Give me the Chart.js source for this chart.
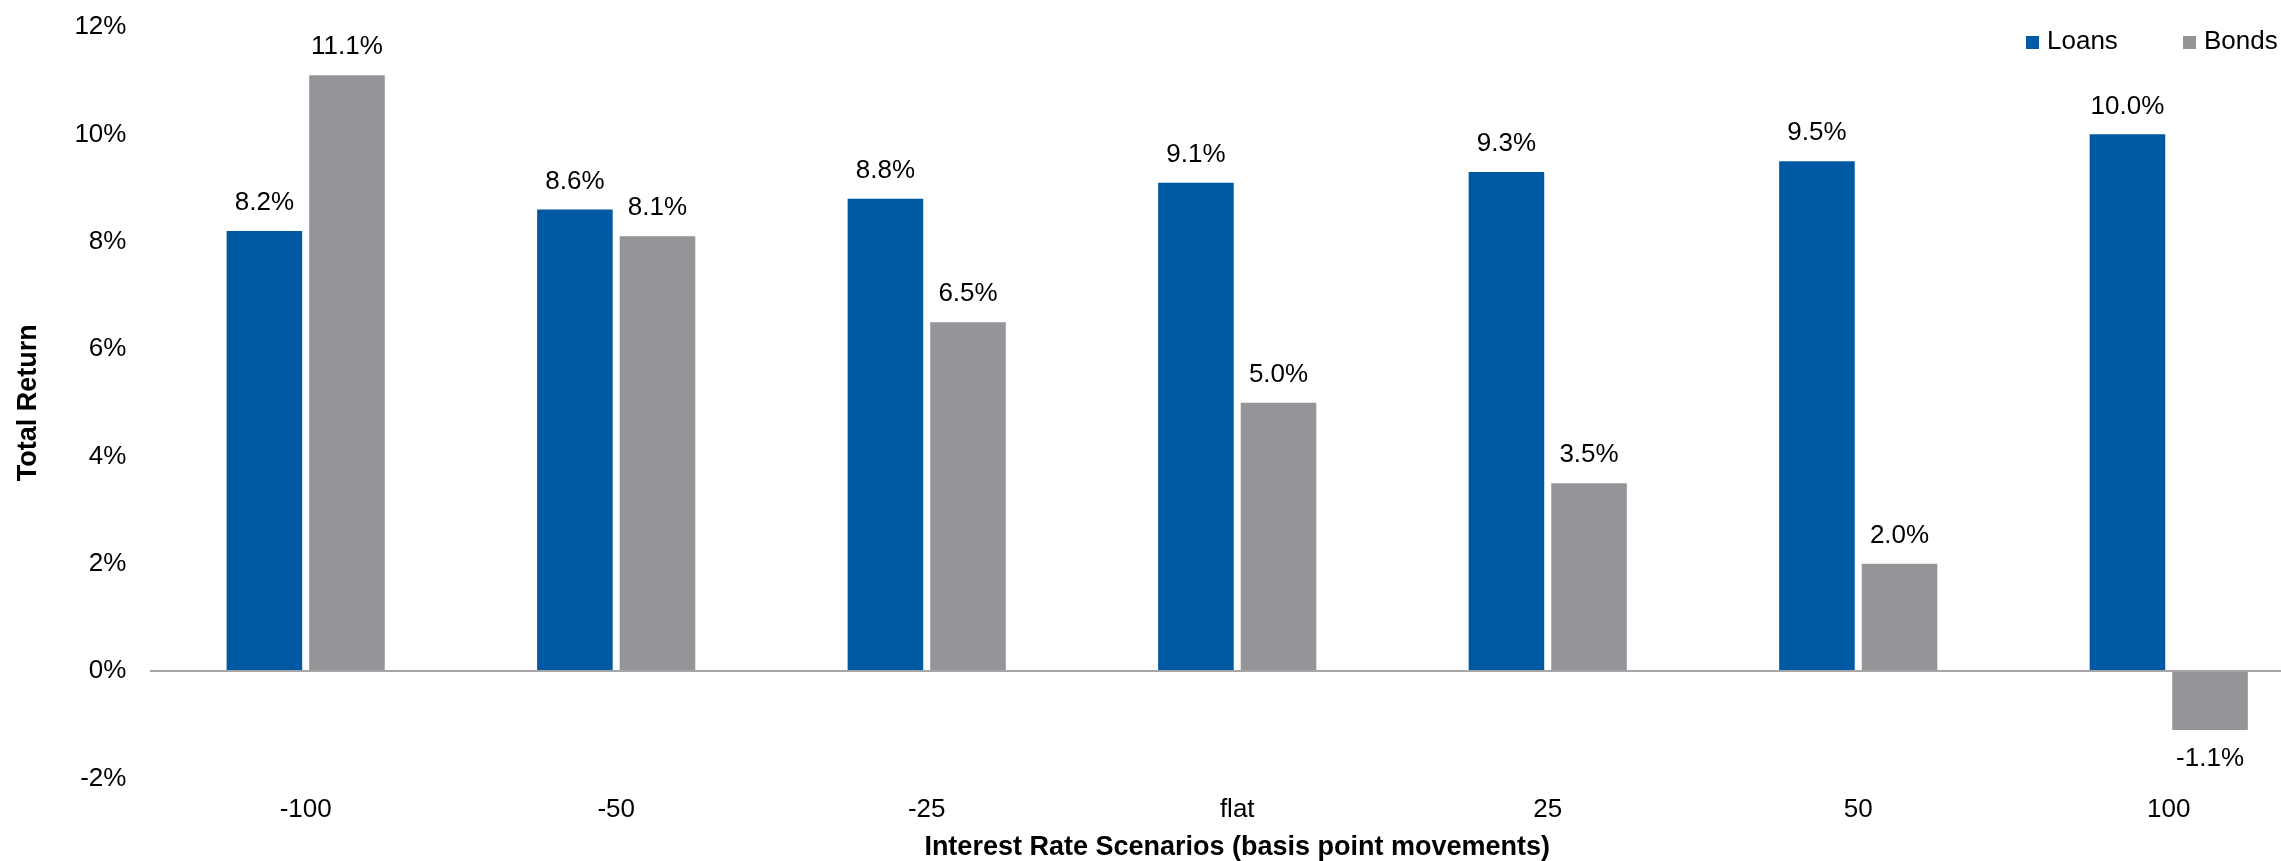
<!DOCTYPE html>
<html>
<head>
<meta charset="utf-8">
<script src="https://cdn.jsdelivr.net/npm/chart.js@4.4.1/dist/chart.umd.min.js"></script>
<style>
  html, body { margin: 0; padding: 0; background: #ffffff; overflow: hidden; }
  #wrap { position: relative; width: 2281px; height: 861px; overflow: hidden; }
  #c { position: absolute; left: 0; top: 0; }
</style>
</head>
<body>
<div id="wrap"><canvas id="c" width="2330" height="870"></canvas></div>
<script>
const categories = ['-100', '-50', '-25', 'flat', '25', '50', '100'];
const loans = [8.2, 8.6, 8.8, 9.1, 9.3, 9.5, 10.0];
const bonds = [11.1, 8.1, 6.5, 5.0, 3.5, 2.0, -1.1];
const seriesNames = ['Loans', 'Bonds'];
const yMin = -2, yMax = 12, yStep = 2;

const FONT = "'Liberation Sans', Arial, Helvetica, sans-serif";
const LOANS_COLOR = '#005AA3';
const BONDS_COLOR = '#949599';

const dataLabels = {
  id: 'dataLabels',
  afterDatasetsDraw(chart) {
    const ctx = chart.ctx;
    ctx.save();
    ctx.font = '26px ' + FONT;
    ctx.fillStyle = '#000000';
    ctx.textAlign = 'center';
    ctx.textBaseline = 'middle';
    chart.data.datasets.forEach((ds, di) => {
      const meta = chart.getDatasetMeta(di);
      meta.data.forEach((bar, i) => {
        const v = ds.data[i];
        const txt = v.toFixed(1) + '%';
        const y = v >= 0 ? bar.y - 28 : bar.y + 29;
        ctx.fillText(txt, bar.x, y);
      });
    });
    ctx.restore();
  }
};

const topLegend = {
  id: 'topLegend',
  afterDraw(chart) {
    const ctx = chart.ctx;
    ctx.save();
    ctx.font = '26px ' + FONT;
    ctx.textBaseline = 'alphabetic';
    ctx.textAlign = 'left';
    const xs = [2026, 2183];
    chart.data.datasets.forEach((ds, i) => {
      const x = xs[i];
      ctx.fillStyle = ds.backgroundColor;
      ctx.fillRect(x, 36, 13, 13);
      ctx.fillStyle = '#000000';
      ctx.fillText(ds.label, x + 21, 48.5);
    });
    ctx.restore();
  }
};

new Chart(document.getElementById('c'), {
  type: 'bar',
  data: {
    labels: categories,
    datasets: [
      { label: seriesNames[0], data: loans, backgroundColor: LOANS_COLOR, categoryPercentage: 0.532, barPercentage: 0.915 },
      { label: seriesNames[1], data: bonds, backgroundColor: BONDS_COLOR, categoryPercentage: 0.532, barPercentage: 0.915 }
    ]
  },
  options: {
    responsive: false,
    animation: false,
    devicePixelRatio: 1,
    layout: { padding: { left: 0, right: 6, top: 27, bottom: 0 } },
    plugins: {
      legend: { display: false },
      tooltip: { enabled: false }
    },
    scales: {
      x: {
        grid: { display: false, drawTicks: false },
        border: { display: false },
        ticks: { color: '#000000', font: { family: FONT, size: 26 }, padding: 16 },
        title: {
          display: true,
          text: 'Interest Rate Scenarios (basis point movements)',
          color: '#000000',
          font: { family: FONT, size: 27, weight: 'bold' },
          padding: { top: -10, bottom: 6 }
        }
      },
      y: {
        min: yMin,
        max: yMax,
        afterFit: (scale) => { scale.paddingTop = 0; scale.paddingBottom = 0; },
        ticks: {
          stepSize: yStep,
          color: '#000000',
          font: { family: FONT, size: 26 },
          padding: 24,
          callback: (v) => v + '%'
        },
        grid: {
          drawTicks: false,
          lineWidth: 2,
          color: (c) => (c.tick && c.tick.value === 0) ? '#A6A6A6' : 'rgba(0,0,0,0)'
        },
        border: { display: false },
        title: {
          display: true,
          text: 'Total Return',
          color: '#000000',
          font: { family: FONT, size: 27, weight: 'bold' },
          padding: { top: 12, bottom: 6 }
        }
      }
    }
  },
  plugins: [dataLabels, topLegend]
});
</script>
</body>
</html>
